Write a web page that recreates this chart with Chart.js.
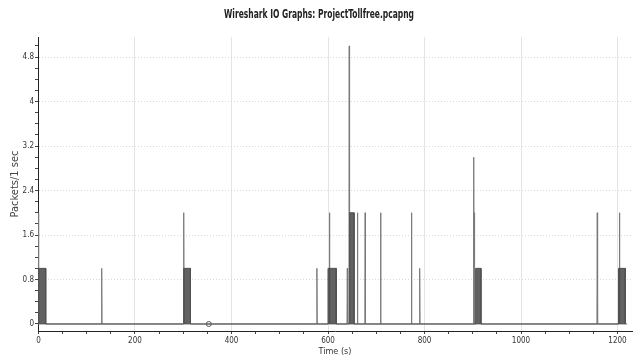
<!DOCTYPE html>
<html>
<head>
<meta charset="utf-8">
<style>
  html, body { margin: 0; padding: 0; background: #fff; }
  .wrap { position: relative; width: 638px; height: 356px; }
  #io { display: block; }
  .title {
    position: absolute; left: 0; top: 6px; width: 638px;
    text-align: center;
    font: bold 12px 'DejaVu Sans Condensed', 'DejaVu Sans', sans-serif;
    line-height: 16px;
    color: #222;
    transform: scaleX(0.7);
    transform-origin: 319px 0;
  }
</style>
<script src="https://cdn.jsdelivr.net/npm/chart.js@4/dist/chart.umd.min.js"></script>
</head>
<body>
<div class="wrap">
  <canvas id="io" width="638" height="356"></canvas>
  <div class="title">Wireshark IO Graphs: ProjectTollfree.pcapng</div>
</div>
<script>
  // single-interval peaks (time in s, packets per 1 s)
  const spikeTimes  = [0, 131, 301, 577, 603, 640, 644, 661, 677, 709, 773, 790, 902, 903, 1158, 1204];
  const spikeValues = [2, 1, 2, 1, 2, 1, 5, 2, 2, 2, 2, 1, 3, 2, 2, 2];

  // sustained runs (start s, end s, packets per 1 s)
  const runStarts = [0, 301, 600, 645, 906, 1202];
  const runEnds   = [15, 315, 617, 654, 917, 1216];
  const runValues = [1, 1, 1, 2, 1, 1];

  // graph marker
  const markerTimes  = [353];
  const markerValues = [0];

  const xMajorTicks = [0, 200, 400, 600, 800, 1000, 1200];
  const yMajorTicks = [0, 0.8, 1.6, 2.4, 3.2, 4, 4.8];

  const captureEnd = 1220;
  const narrow = "'DejaVu Sans Condensed', 'DejaVu Sans', sans-serif";

  function isMajor(list, v) {
    return list.some((m) => Math.abs(m - v) < 1e-6);
  }

  function spikePoints() {
    const pts = [];
    spikeTimes.forEach((t, i) => {
      pts.push({ x: t - 0.7, y: 0 });
      pts.push({ x: t, y: spikeValues[i] });
      pts.push({ x: t + 0.7, y: 0 });
    });
    pts.push({ x: captureEnd, y: 0 });
    return pts;
  }

  function runPoints() {
    const pts = [];
    runStarts.forEach((s, i) => {
      pts.push({ x: s, y: 0 });
      pts.push({ x: s, y: runValues[i] });
      pts.push({ x: runEnds[i], y: runValues[i] });
      pts.push({ x: runEnds[i], y: 0 });
    });
    return pts;
  }

  new Chart(document.getElementById('io'), {
    type: 'line',
    data: {
      datasets: [
        {
          label: 'runs',
          data: runPoints(),
          borderColor: '#505050',
          backgroundColor: 'rgba(70,70,70,0.85)',
          borderWidth: 1,
          fill: 'origin',
          pointRadius: 0,
          tension: 0
        },
        {
          label: 'packets',
          data: spikePoints(),
          borderColor: '#7a7a7a',
          borderWidth: 1,
          fill: false,
          pointRadius: 0,
          tension: 0
        },
        {
          label: 'marker',
          data: markerTimes.map((t, i) => ({ x: t, y: markerValues[i] })),
          showLine: false,
          pointRadius: 2.5,
          pointBorderColor: '#555',
          pointBackgroundColor: '#fff',
          pointBorderWidth: 1
        }
      ]
    },
    options: {
      responsive: false,
      animation: false,
      layout: { padding: { left: 0, right: 6, top: 37, bottom: 0 } },
      plugins: {
        legend: { display: false },
        tooltip: { enabled: false },
        title: { display: false }
      },
      scales: {
        x: {
          type: 'linear',
          min: -1,
          max: 1230,
          afterFit: (scale) => { scale.height = 25; },
          ticks: {
            stepSize: 50,
            includeBounds: false,
            autoSkip: false,
            maxRotation: 0,
            padding: 2,
            color: '#333',
            font: { family: narrow, size: 8 },
            callback: (v) => isMajor(xMajorTicks, v) ? String(v) : ''
          },
          grid: {
            color: (ctx) => (ctx.tick && isMajor(xMajorTicks, ctx.tick.value) && ctx.tick.value !== 0) ? '#e4e4e4' : 'rgba(0,0,0,0)',
            tickColor: '#444',
            tickLength: 3
          },
          border: { color: '#222', width: 1 },
          title: {
            display: true,
            text: 'Time (s)',
            color: '#333',
            font: { family: narrow, size: 9, lineHeight: 0.9 },
            padding: { top: 0, bottom: 0 }
          }
        },
        y: {
          type: 'linear',
          min: -0.126,
          max: 5.16,
          afterFit: (scale) => { scale.width = 38; },
          ticks: {
            stepSize: 0.2,
            includeBounds: false,
            autoSkip: false,
            padding: 1,
            color: '#333',
            font: { family: narrow, size: 8 },
            callback: (v) => isMajor(yMajorTicks, v) ? String(Math.round(v * 10) / 10) : ''
          },
          grid: {
            color: (ctx) => (ctx.tick && isMajor(yMajorTicks, ctx.tick.value) && ctx.tick.value !== 0) ? '#d8d8d8' : 'rgba(0,0,0,0)',
            tickColor: '#444',
            tickLength: 3
          },
          border: { color: '#222', width: 1, dash: [1, 2] },
          title: {
            display: true,
            text: 'Packets/1 sec',
            color: '#444',
            font: { family: narrow, size: 11, lineHeight: 1.2 },
            padding: { top: 9, bottom: 0 }
          }
        }
      }
    }
  });
</script>
</body>
</html>
